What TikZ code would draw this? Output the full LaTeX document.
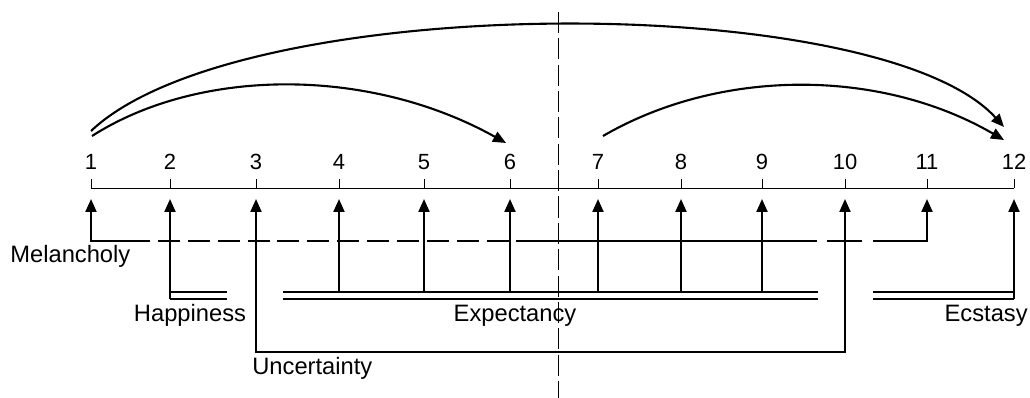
\documentclass[tikz,border=0pt]{standalone}
\usepackage{fontspec}
\setmainfont{Liberation Sans}
\usetikzlibrary{arrows.meta}

\begin{document}
\begin{tikzpicture}[x=0.02cm, y=-0.02cm, >={Triangle[length=2.6mm,width=2.2mm]},
    num/.style={anchor=base, inner sep=0pt, font=\fontsize{12.5}{14}\selectfont},
    lab/.style={inner sep=0pt, font=\fontsize{13.5}{16}\selectfont},
    link/.style={line width=1.2pt},
    rail/.style={line width=0.8pt},
    bow/.style={line width=1.2pt, ->}]
    \useasboundingbox (0,0) rectangle (1030,398);

    % scale with ticks and numbers
    \foreach \i/\x in {1/91,2/170,3/256,4/339,5/424,6/510,7/598,8/681,9/762,10/845,11/927,12/1014} {
        \coordinate (t\i) at (\x,188);
        \coordinate (a\i) at (\x,199);
        \node [num] (n\i) at (\x,170) {\i};
        \draw[line width=0.5pt] (t\i) -- ++(0,-9);
    }
    \draw[line width=0.5pt] (t1) -- (t12);

    % divider
    \coordinate (dtop) at (558,12);
    \coordinate (dbot) at (558,398);
    \draw[line width=0.5pt, dash pattern=on 12pt off 3pt] (dtop) -- (dbot);

    % arcs
    \coordinate (s1) at (91,131);
    \coordinate (s1b) at (92,136);
    \coordinate (s7) at (603,136);
    \coordinate (e6) at (506,143);
    \coordinate (e12) at (1004,127);
    \coordinate (e12b) at (1004,140);
    \draw[bow] (s1) .. controls (240,-10) and (880,-10) .. (e12);
    \draw[bow] (s1b) .. controls (200,67) and (370,67) .. (e6);
    \draw[bow] (s7) .. controls (720,68) and (880,68) .. (e12b);

    % Melancholy
    \coordinate (m1) at (91,241);
    \coordinate (mA) at (150,241);
    \coordinate (mB) at (158,241);
    \coordinate (mC) at (535,241);
    \coordinate (mD) at (817,241);
    \coordinate (mE) at (827,241);
    \coordinate (mF) at (862,241);
    \coordinate (mG) at (873,241);
    \coordinate (m11) at (927,241);
    \draw[link,<-] (a1) -- (m1) -- (mA);
    \draw[link, dash pattern=on 12.5pt off 4.5pt] (mB) -- (mC);
    \draw[link] (mC) -- (mD);
    \draw[link] (mE) -- (mF);
    \draw[link,->] (mG) -- (m11) -- (a11);
    \node[lab, anchor=base west] (mel) at (10,263) {Melancholy};

    % Happiness
    \coordinate (h1) at (170,299);
    \coordinate (h2) at (227,299);
    \coordinate (hu1) at (170,292);
    \coordinate (hu2) at (227,292);
    \draw[link,<-] (a2) -- (h1);
    \draw[rail] (h1) -- (h2);
    \draw[rail] (hu1) -- (hu2);
    \node[lab, anchor=base] (hap) at (190,321) {Happiness};

    % Expectancy
    \coordinate (x1) at (283,292);
    \coordinate (x2) at (818,292);
    \coordinate (xl1) at (283,299);
    \coordinate (xl2) at (818,299);
    \draw[rail] (x1) -- (x2);
    \draw[rail] (xl1) -- (xl2);
    \foreach \i in {4,...,9}
        \draw[link,->] (x1 -| a\i) -- (a\i);
    \node[lab, anchor=base] (exp) at (515,321) {Expectancy};

    % Ecstasy
    \coordinate (c1) at (873,292);
    \coordinate (c2) at (1014,292);
    \coordinate (cl1) at (873,299);
    \coordinate (cl2) at (1014,299);
    \draw[rail] (c1) -- (c2);
    \draw[rail] (cl1) -- (cl2);
    \draw[link,->] (cl2) -- (a12);
    \node[lab, anchor=base east] (ecs) at (1028,321) {Ecstasy};

    % Uncertainty
    \coordinate (u3) at (256,352);
    \coordinate (u10) at (845,352);
    \draw[link,<->] (a3) -- (u3) -- (u10) -- (a10);
    \node[lab, anchor=base west] (unc) at (252,374) {Uncertainty};
\end{tikzpicture}
\end{document}
